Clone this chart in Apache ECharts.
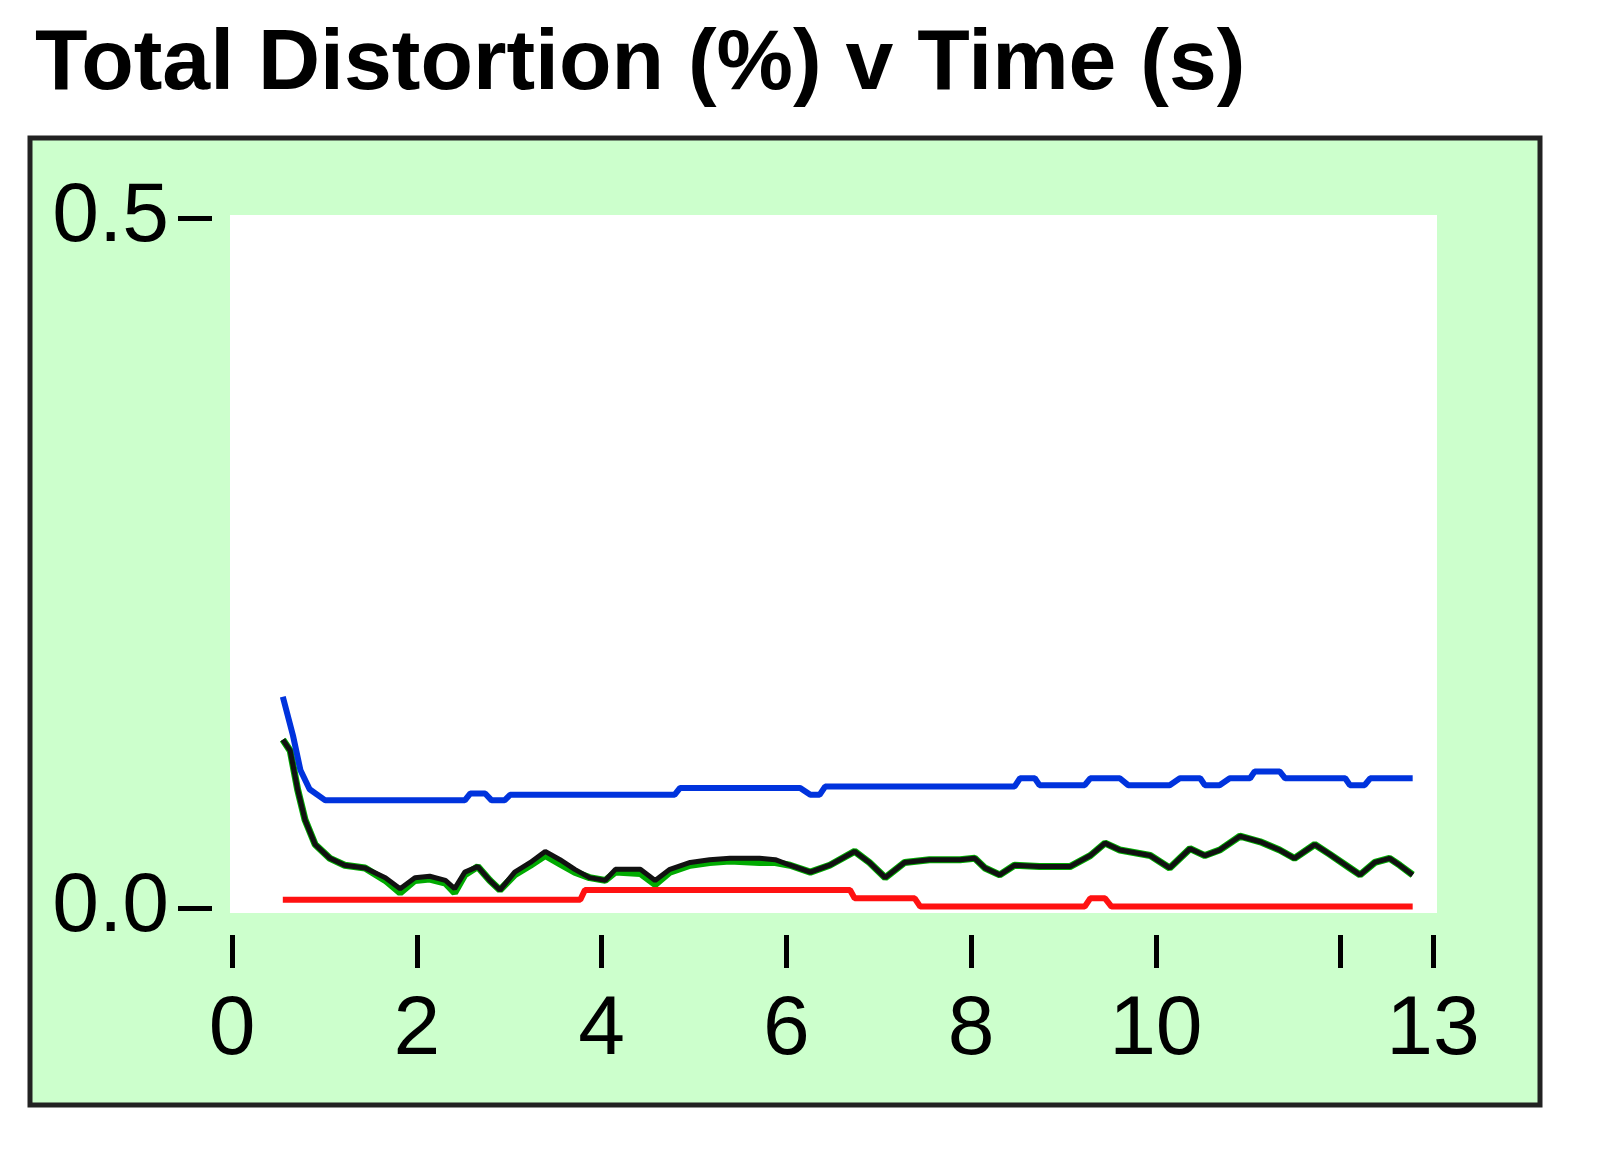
<!DOCTYPE html>
<html><head><meta charset="utf-8">
<script src="https://cdn.jsdelivr.net/npm/echarts@6/dist/echarts.min.js"></script>
<style>html,body{margin:0;padding:0;background:#fff}#c{width:1608px;height:1164px}</style>
</head><body><div id="c"></div>
<script>
// time (s) / distortion (%) pairs
var blackX = [0.55,0.63,0.71,0.79,0.90,1.06,1.22,1.44,1.66,1.82,1.98,2.14,2.31,2.41,2.52,2.66,2.79,2.90,3.06,3.23,3.39,3.55,3.71,3.87,4.04,4.15,4.42,4.58,4.74,4.96,5.17,5.39,5.71,5.88,6.04,6.26,6.47,6.74,6.90,7.07,7.28,7.55,7.88,8.04,8.15,8.31,8.47,8.74,9.07,9.29,9.45,9.61,9.94,10.15,10.37,10.53,10.69,10.91,11.13,11.34,11.50,11.72,11.88,12.10,12.21,12.37,12.53,12.64,12.78];
var blackY = [0.122,0.114,0.086,0.064,0.046,0.036,0.031,0.029,0.022,0.014,0.022,0.023,0.020,0.014,0.026,0.030,0.020,0.013,0.026,0.033,0.041,0.035,0.028,0.022,0.020,0.028,0.028,0.020,0.028,0.033,0.035,0.036,0.036,0.035,0.031,0.026,0.031,0.041,0.033,0.022,0.033,0.035,0.035,0.036,0.029,0.024,0.031,0.030,0.030,0.038,0.047,0.042,0.038,0.029,0.043,0.038,0.042,0.052,0.048,0.042,0.036,0.046,0.039,0.029,0.024,0.033,0.036,0.031,0.024];
var greenY = [0.122,0.114,0.086,0.064,0.046,0.036,0.031,0.029,0.020,0.011,0.020,0.021,0.018,0.011,0.024,0.030,0.020,0.013,0.024,0.031,0.038,0.032,0.026,0.022,0.020,0.026,0.025,0.017,0.026,0.031,0.033,0.034,0.033,0.033,0.031,0.026,0.031,0.041,0.033,0.022,0.033,0.035,0.035,0.036,0.029,0.024,0.031,0.030,0.030,0.038,0.047,0.042,0.038,0.029,0.043,0.038,0.042,0.052,0.048,0.042,0.036,0.046,0.039,0.029,0.024,0.033,0.036,0.031,0.024];
var blueX = [0.55,0.66,0.74,0.84,1.01,2.52,2.58,2.74,2.81,2.95,3.01,4.79,4.85,6.15,6.26,6.36,6.42,8.47,8.53,8.69,8.74,9.23,9.29,9.61,9.70,10.15,10.26,10.48,10.53,10.69,10.80,11.02,11.07,11.34,11.40,12.05,12.10,12.26,12.32,12.78];
var blueY = [0.153,0.125,0.100,0.086,0.078,0.078,0.083,0.083,0.078,0.078,0.082,0.082,0.087,0.087,0.082,0.082,0.088,0.088,0.094,0.094,0.089,0.089,0.094,0.094,0.089,0.089,0.094,0.094,0.089,0.089,0.094,0.094,0.099,0.099,0.094,0.094,0.089,0.089,0.094,0.094];
var redX = [0.55,3.77,3.82,6.69,6.74,7.39,7.45,9.23,9.29,9.45,9.52,12.78];
var redY = [0.006,0.006,0.013,0.013,0.007,0.007,0.001,0.001,0.007,0.007,0.001,0.001];
var xTicks = [0,2,4,6,8,10,12,13];
var xLabels = [0,2,4,6,8,10,13];

function pairs(xs, ys){ return xs.map(function(x,i){ return [x, ys[i]]; }); }

var chart = echarts.init(document.getElementById('c'));
var font = 'Liberation Sans, Arial, sans-serif';
var lbl = {fontSize:84, color:'#000', fontFamily:font};
chart.setOption({
  animation: false,
  backgroundColor: '#fff',
  graphic: [
    {type:'rect', shape:{x:30,y:138,width:1510,height:967}, style:{fill:'#ccffcc', stroke:'#222', lineWidth:5}, z:-10},
    {type:'rect', shape:{x:230,y:215,width:1207,height:698}, style:{fill:'#fff'}, z:-9},
    {type:'text', left:35, top:22, style:{text:'Total Distortion (%) v Time (s)', font:'bold 86px ' + font, fill:'#000'}}
  ],
  // grid 0: the plot, grid 1: detached x axis, grid 2: detached y axis
  grid: [
    {left:232, right:175, top:218, bottom:256},
    {left:232, right:175, top:934, height:1},
    {left:212, width:1, top:218, bottom:256}
  ],
  xAxis: [
    {type:'value', gridIndex:0, min:0, max:13, show:false},
    {type:'value', gridIndex:1, min:0, max:13, position:'top',
     axisLine:{show:false}, splitLine:{show:false},
     axisTick:{show:true, inside:true, customValues:xTicks, length:33, lineStyle:{color:'#000', width:5}},
     axisLabel:Object.assign({customValues:xLabels, inside:true, margin:55}, lbl)},
    {type:'value', gridIndex:2, show:false}
  ],
  yAxis: [
    {type:'value', gridIndex:0, min:0, max:0.5, show:false},
    {type:'value', gridIndex:1, show:false},
    {type:'value', gridIndex:2, min:0, max:0.5, interval:0.5, position:'right',
     axisLine:{show:false}, splitLine:{show:false},
     axisTick:{show:true, inside:true, length:34, lineStyle:{color:'#000', width:5}},
     axisLabel:Object.assign({inside:true, margin:44, formatter:function(v){return v.toFixed(1);}}, lbl)}
  ],
  series: [
    {type:'line', data:pairs(blackX, greenY), symbol:'none', lineStyle:{color:'#00aa00', width:7}},
    {type:'line', data:pairs(blackX, blackY), symbol:'none', lineStyle:{color:'#111', width:5}},
    {type:'line', data:pairs(blueX, blueY), symbol:'none', lineStyle:{color:'#0033dd', width:6}},
    {type:'line', data:pairs(redX, redY), symbol:'none', lineStyle:{color:'#ff1111', width:6}}
  ]
});
window.addEventListener('resize', function(){ chart.resize(); });
</script></body></html>
